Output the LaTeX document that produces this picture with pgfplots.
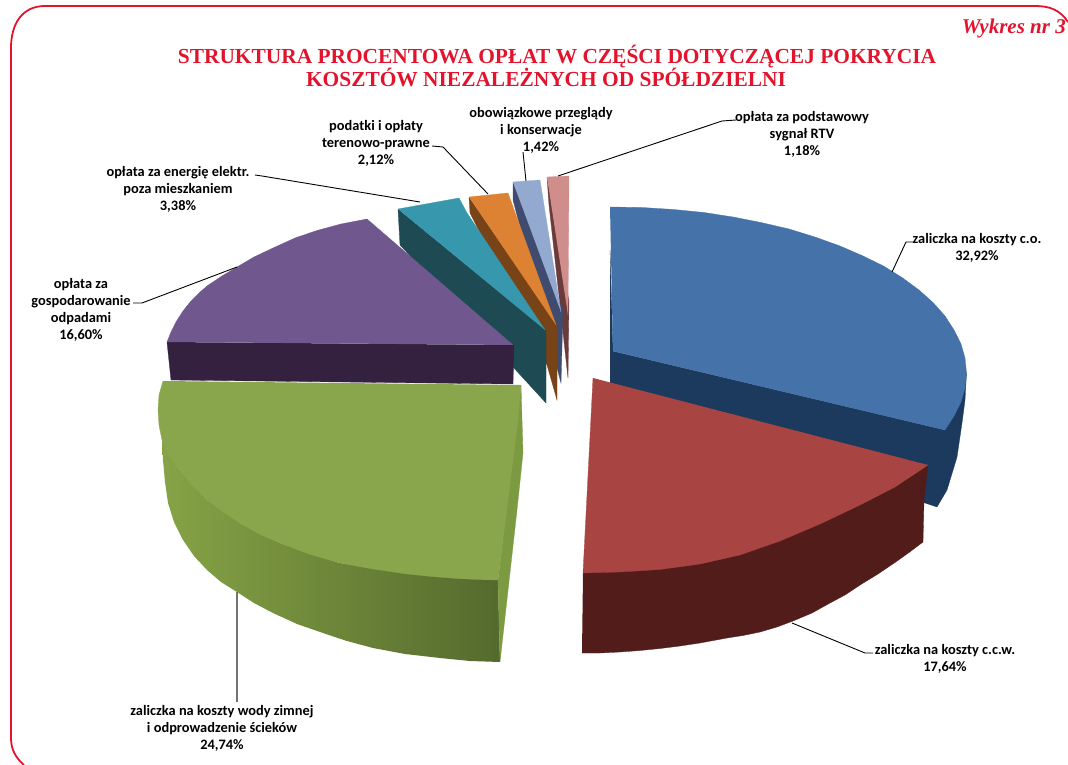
\documentclass[border=0pt]{standalone}
\usepackage{fontspec}
\setmainfont{Carlito}
\newfontfamily\serif{Liberation Serif}
\usepackage{pgfplots}
\pgfplotsset{compat=1.18}
\definecolor{ramka}{HTML}{E2142D}
\definecolor{blueT}{HTML}{4472A9}
\definecolor{blueS}{HTML}{1B3A5E}
\definecolor{redT}{HTML}{A84442}
\definecolor{redS}{HTML}{511C19}
\definecolor{greenT}{HTML}{8AA64C}
\definecolor{greenE}{HTML}{7B9A42}
\definecolor{greenA}{HTML}{86A346}
\definecolor{greenB}{HTML}{546A2D}
\definecolor{purT}{HTML}{70578D}
\definecolor{purS}{HTML}{33213F}
\definecolor{teaT}{HTML}{3797AD}
\definecolor{teaS}{HTML}{1E4A54}
\definecolor{oraT}{HTML}{DD8232}
\definecolor{oraS}{HTML}{774317}
\definecolor{libT}{HTML}{93A9CF}
\definecolor{libS}{HTML}{3F4B6F}
\definecolor{pinT}{HTML}{CF8D8B}
\definecolor{pinS}{HTML}{6A3B3A}
\tikzset{lab/.style={font=\fontsize{14.4}{17}\selectfont\bfseries,align=center,inner sep=0pt,text=black}}
\pgfplotsset{
  face/.style={fill=#1,draw=#1,line width=0.3pt,no markers,forget plot},
  lead/.style={draw=black,line width=0.9pt,no markers,forget plot}
}
\begin{document}
\begin{tikzpicture}
\begin{axis}[name=a,anchor=south west,at={(0,0)},scale only axis,width=1068pt,height=765pt,
  xmin=0,xmax=1068,ymin=0,ymax=765,y dir=reverse,hide axis,clip=true]
% --- small slices (back)
\addplot[face=pinS] coordinates {(547,177)(549,205)(568,378)(569,300)};
\addplot[face=pinT] coordinates {(547,177)(569,176)(568,315)};
\addplot[face=libS] coordinates {(513,182)(513,200)(561,383)(563,310)};
\addplot[face=libT] coordinates {(513,182)(540,180)(561,312)};
\addplot[face=oraS] coordinates {(469,197)(470,213)(547,365)(557,400)(557,325)};
\addplot[face=oraT] coordinates {(469,197)(508,193)(556,325)};
\addplot[face=teaS] coordinates {(398,209)(400,245)(513,367)(546,403)(546,330)};
\addplot[face=teaT] coordinates {(398,209)(459,198)(467,213)(545,330)};
% --- purple
\addplot[face=purS] coordinates {(167,342)(171,380)(513,384)(514,345)};
\addplot[face=purT] coordinates {(167,342)(171,332)(176,322)(183,311)(191,301)(199,293)(207,286)(222,276)(237,267)(254,257)(273,248)(295,238)(317,230.5)(341,224)(367,219)(513,345)};
% --- blue
\addplot[face=blueS] coordinates {(612,351)(945,430)(966.5,373)(965,400)(962,423)(957,457)(947,490)(937,507)(925,503)(700,450)(612,400)};
\addplot[face=blueS] coordinates {(610,250)(613,351)(612,386)(610,386)};
\addplot[face=blueT] coordinates {(610,207)(642,207.5)(673.5,209.5)(704,212.5)(733,217)(761,222.5)(789,229)(815,237)(840,246)(862,255.5)(883.5,266)(902,277.5)(919,290)(933,302.5)(945,316)(954,330)(961,344)(965,358)(966.5,373)(965,388)(961,402)(954,416)(945,430)(613,351)};
% --- red
\addplot[face=redS] coordinates {(583,573)(928,465)(924,500)(923,542)(909,552.5)(895,562.5)(878,574)(860,585)(845,595)(830,603)(812,613)(793,621)(777,627)(760,632)(743,635.5)(727,638)(700,643)(680,646)(660,648.5)(640,650.5)(620,652)(600,653)(582,653)};
\addplot[face=redT] coordinates {(593,378)(583,573)(620,572)(660,569.5)(700,564)(740,555)(780,541)(820,524)(860,505)(895,487)(928,465)};
% --- green
\addplot[shade,left color=greenA,right color=greenB,draw=none,no markers,forget plot] coordinates {(162,440)(163,460)(165,482)(168,503)(174,522)(183,540)(194,556)(207,570)(221,582)(237,592)(254,603)(273,613)(297,624)(323,633)(347,641)(373,648)(405,654)(440,658)(470,661)(500,662)(498,580)(457,578)(407,573)(340,563)(280,543)(240,523)(207,500)(177,467)};
\addplot[face=greenE] coordinates {(521,385)(523,453)(517,510)(500,662)(498,580)};
\addplot[face=greenT] coordinates {(163,381)(159,395)(158,410)(159,425)(162,440)(168,454)(177,467)(191,484)(207,500)(223,512)(240,523)(259,534)(280,543)(309,554)(340,563)(373,569)(407,574)(432,576.5)(457,578.5)(478,579.5)(498,580)(518,420)(521,385)};
% --- leader lines
\addplot[lead] coordinates {(133,303)(142,303)(237,267)};
\addplot[lead] coordinates {(255,175)(262,176)(420,202)};
\addplot[lead] coordinates {(432,146)(443,147)(488,194)};
\addplot[lead] coordinates {(523,152)(526,181)};
\addplot[lead] coordinates {(736,120)(722,121)(558,176)};
\addplot[lead] coordinates {(913,242)(906,242)(892,272)};
\addplot[lead] coordinates {(873,653)(865,653)(792,623)};
\addplot[draw=black!55,line width=1.1pt,no markers,forget plot] coordinates {(237,592)(237,702)};
% --- frame
\draw[ramka,line width=1.8pt] (axis cs:1068,22) .. controls (axis cs:1060,10) and (axis cs:1050,6) .. (axis cs:1035,6) -- (axis cs:45,6) .. controls (axis cs:22,6) and (axis cs:11,24) .. (axis cs:11,48) -- (axis cs:11,738) .. controls (axis cs:11,750) and (axis cs:16,758) .. (axis cs:24,765);
% --- titles
\node[anchor=east,inner sep=0pt,text=ramka,font=\serif\fontsize{21}{24}\selectfont\bfseries\itshape] at (axis cs:1066,28) {Wykres nr 3};
\node[inner sep=0pt,text=ramka,font=\serif\fontsize{21.4}{24}\selectfont\bfseries] at (axis cs:557,57) {STRUKTURA PROCENTOWA OPŁAT W CZĘŚCI DOTYCZĄCEJ POKRYCIA};
\node[inner sep=0pt,text=ramka,font=\serif\fontsize{21.4}{24}\selectfont\bfseries] at (axis cs:546,77) {KOSZTÓW NIEZALEŻNYCH OD SPÓŁDZIELNI};
% --- labels
\node[lab] at (axis cs:977,247.5) {zaliczka na koszty c.o.\\32,92\%};
\node[lab] at (axis cs:945,658.5) {zaliczka na koszty c.c.w.\\17,64\%};
\node[lab] at (axis cs:222,728.5) {zaliczka na koszty wody zimnej\\i odprowadzenie ścieków\\24,74\%};
\node[lab] at (axis cs:81,309.5) {opłata za\\gospodarowanie\\odpadami\\16,60\%};
\node[lab] at (axis cs:178,189.5) {opłata za energię elektr.\\poza mieszkaniem\\3,38\%};
\node[lab] at (axis cs:376,143) {podatki i opłaty\\terenowo-prawne\\2,12\%};
\node[lab] at (axis cs:541,130) {obowiązkowe przeglądy\\i konserwacje\\1,42\%};
\node[lab] at (axis cs:802,134.5) {opłata za podstawowy\\sygnał RTV\\1,18\%};
\end{axis}
\pgfresetboundingbox
\useasboundingbox (a.south west) rectangle (a.north east);
\end{tikzpicture}
\end{document}
